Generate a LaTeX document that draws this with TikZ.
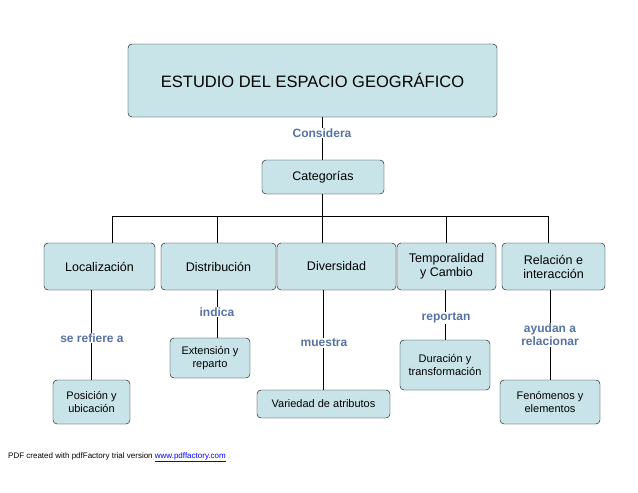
\documentclass[tikz,border=0pt]{standalone}
\usepackage{fontspec}
\setmainfont{Liberation Sans}
\usetikzlibrary{positioning}
\definecolor{boxfill}{RGB}{200,228,232}
\definecolor{wordart}{RGB}{85,115,165}
\tikzset{
    catbox/.style={draw, rounded corners=4pt, fill=boxfill, align=center, font=\fontsize{12.5}{14}\selectfont, inner sep=2pt},
    smallbox/.style={catbox, font=\fontsize{11}{13}\selectfont},
    linklabel/.style={fill=white, text=wordart, font=\fontsize{12}{13}\selectfont\bfseries, align=center, inner sep=1pt}
}
\begin{document}
\begin{tikzpicture}[x=1pt, y=-1pt]
    \useasboundingbox (0,0) rectangle (638,493);
    % title and categories
    \node[catbox, minimum width=369pt, minimum height=73pt, font=\fontsize{16.5}{18}\selectfont] (titulo) at (312.5,80.5) {ESTUDIO DEL ESPACIO GEOGR\'AFICO};
    \node[catbox, minimum width=122pt, minimum height=34pt] (cat) at (323,177) {Categorías};
    \coordinate (bus) at (322,216);
    \coordinate (busL) at (112,216);
    \coordinate (busD) at (217,216);
    \coordinate (busT) at (446,216);
    \coordinate (busR) at (548,216);
    % main categories
    \node[catbox, minimum width=111pt, minimum height=47pt] (loc) at (99.5,266.5) {Localización};
    \node[catbox, minimum width=115pt, minimum height=47pt] (dist) at (218.5,266.5) {Distribución};
    \node[catbox, minimum width=119pt, minimum height=47pt] (div) at (336.5,266.5) {Diversidad};
    \node[catbox, minimum width=99pt, minimum height=47pt] (temp) at (446.5,266.5) {Temporalidad\\y Cambio};
    \node[catbox, minimum width=103pt, minimum height=47pt] (rel) at (553.5,266.5) {Relación e\\interacción};
    % lower boxes
    \node[smallbox, minimum width=77pt, minimum height=44pt] (pos) at (91.5,402) {Posición y\\ubicación};
    \node[smallbox, minimum width=80pt, minimum height=40pt] (ext) at (210,358) {Extensión y\\reparto};
    \node[smallbox, minimum width=133pt, minimum height=28pt] (var) at (323.5,404) {Variedad de atributos};
    \node[smallbox, minimum width=90pt, minimum height=50pt] (dur) at (445,365) {Duración y\\transformación};
    \node[smallbox, minimum width=100pt, minimum height=44pt] (fen) at (550,402) {Fenómenos y\\elementos};
    % connectors
    \draw (titulo.south -| bus) -- (cat.north -| bus);
    \draw (cat.south -| bus) -- (bus);
    \draw (busL) -- (busR);
    \draw (busL) -- (loc.north -| busL);
    \draw (busD) -- (dist.north -| busD);
    \draw (bus) -- (div.north -| bus);
    \draw (busT) -- (temp.north -| busT);
    \draw (busR) -- (rel.north -| busR);
    \draw (loc.south -| pos) -- (pos.north);
    \draw (dist.south -| busD) -- (ext.north -| busD);
    \draw (div.south -| var) -- (var.north);
    \draw (temp.south -| dur) -- (dur.north);
    \draw (rel.south -| fen) -- (fen.north);
    % link words
    \node[linklabel] (considera) at (322,133) {Considera};
    \node[linklabel] (refiere) at (92,338) {se refiere a};
    \node[linklabel] (indica) at (217,312) {indica};
    \node[linklabel] (muestra) at (324,343) {muestra};
    \node[linklabel] (reportan) at (446,318) {reportan};
    \node[linklabel] (ayudan) at (550,335) {ayudan a\\relacionar};
    % footer
    \node[anchor=west, font=\fontsize{8}{9}\selectfont, inner sep=0pt] (pie) at (8,457) {PDF created with pdfFactory trial version \textcolor{blue}{\underline{www.pdffactory.com}}};
\end{tikzpicture}
\end{document}
